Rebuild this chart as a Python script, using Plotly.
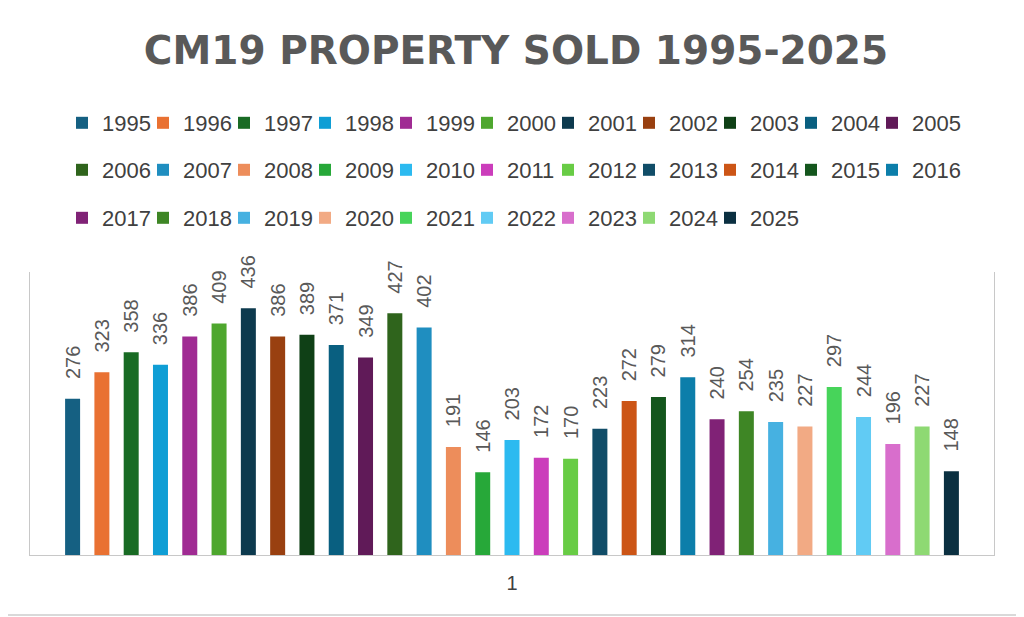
import colorsys
import plotly.graph_objects as go

years = ["1995", "1996", "1997", "1998", "1999", "2000", "2001", "2002", "2003", "2004",
         "2005", "2006", "2007", "2008", "2009", "2010", "2011", "2012", "2013", "2014",
         "2015", "2016", "2017", "2018", "2019", "2020", "2021", "2022", "2023", "2024", "2025"]
sold = [276, 323, 358, 336, 386, 409, 436, 386, 389, 371, 349, 427, 402, 191, 146, 203,
        172, 170, 223, 272, 279, 314, 240, 254, 235, 227, 297, 244, 196, 227, 148]
category = ["1"]

# Office theme accents and Excel's series colour cycle (lumMod, lumOff)
accents = ["#156082", "#E97132", "#196B24", "#0F9ED5", "#A02B93", "#4EA72E"]
cycle = [(1.0, 0.0), (0.6, 0.0), (0.8, 0.2), (0.8, 0.0), (0.6, 0.4), (0.5, 0.0)]


def series_color(i):
    base = accents[i % 6]
    mod, off = cycle[(i // 6) % len(cycle)]
    r, g, b = (int(base[k:k + 2], 16) / 255 for k in (1, 3, 5))
    h, l, s = colorsys.rgb_to_hls(r, g, b)
    l = min(1.0, l * mod + off)
    r, g, b = colorsys.hls_to_rgb(h, l, s)
    return "#%02x%02x%02x" % (round(r * 255), round(g * 255), round(b * 255))


row_ends = {10, 21, 30}

fig = go.Figure()
for i, (yr, v) in enumerate(zip(years, sold)):
    leg = "legend" if i < 11 else ("legend2" if i < 22 else "legend3")
    fig.add_trace(go.Bar(
        x=category, y=[v], name=yr,
        marker=dict(color=series_color(i), line=dict(width=0)),
        text=["\u00a0\u00a0\u00a0" + str(v)],
        textposition="outside", textangle=-90,
        textfont=dict(family="Liberation Sans", size=20, color="#595959"),
        constraintext="none", cliponaxis=False,
        legend=leg,
        legendwidth=56 if i in row_ends else None,
    ))

# the page body adds an 8px offset; page coordinates below are compensated
OFF = 8
W, H = 1024 - OFF, 617 - OFF
ml, mr = 30 - OFF, 30
mt, mb = 272 - OFF, 62
ph = H - mt - mb


def ypaper(py):
    return 1 + (mt - (py - OFF)) / ph


legend_common = dict(
    orientation="h", xanchor="left", yanchor="middle", x=0.0332,
    font=dict(family="Liberation Sans", size=22, color="#404040"),
    entrywidth=36, bgcolor="rgba(0,0,0,0)", traceorder="normal",
)

fig.update_layout(
    width=W, height=H,
    margin=dict(l=ml, r=mr, t=mt, b=mb),
    paper_bgcolor="white", plot_bgcolor="white",
    title=dict(text="<b>CM19 PROPERTY SOLD 1995-2025</b>",
               font=dict(family="DejaVu Sans", size=39, color="#595959"),
               x=0.5, xanchor="center", y=1 - (50 - OFF) / H, yanchor="middle"),
    barmode="group", bargap=0.058, bargroupgap=0.488,
    showlegend=True,
    legend=dict(legend_common, y=ypaper(123)),
    legend2=dict(legend_common, y=ypaper(170)),
    legend3=dict(legend_common, y=ypaper(218)),
    xaxis=dict(showline=True, linecolor="#c8c8c8", linewidth=1, mirror=False,
               showgrid=False, ticks="", tickfont=dict(family="Liberation Sans", size=20, color="#404040"),
               ticklabelstandoff=10),
    yaxis=dict(range=[0, 500], showline=True, linecolor="#c8c8c8", linewidth=1, mirror=True,
               showgrid=False, showticklabels=False, ticks="", zeroline=False),
    shapes=[dict(type="line", xref="paper", yref="paper",
                 x0=-ml / (W - ml - mr), x1=1 + mr / (W - ml - mr),
                 y0=ypaper(615), y1=ypaper(615),
                 line=dict(color="#d9d9d9", width=2))],
)

fig.write_html("out.html")
